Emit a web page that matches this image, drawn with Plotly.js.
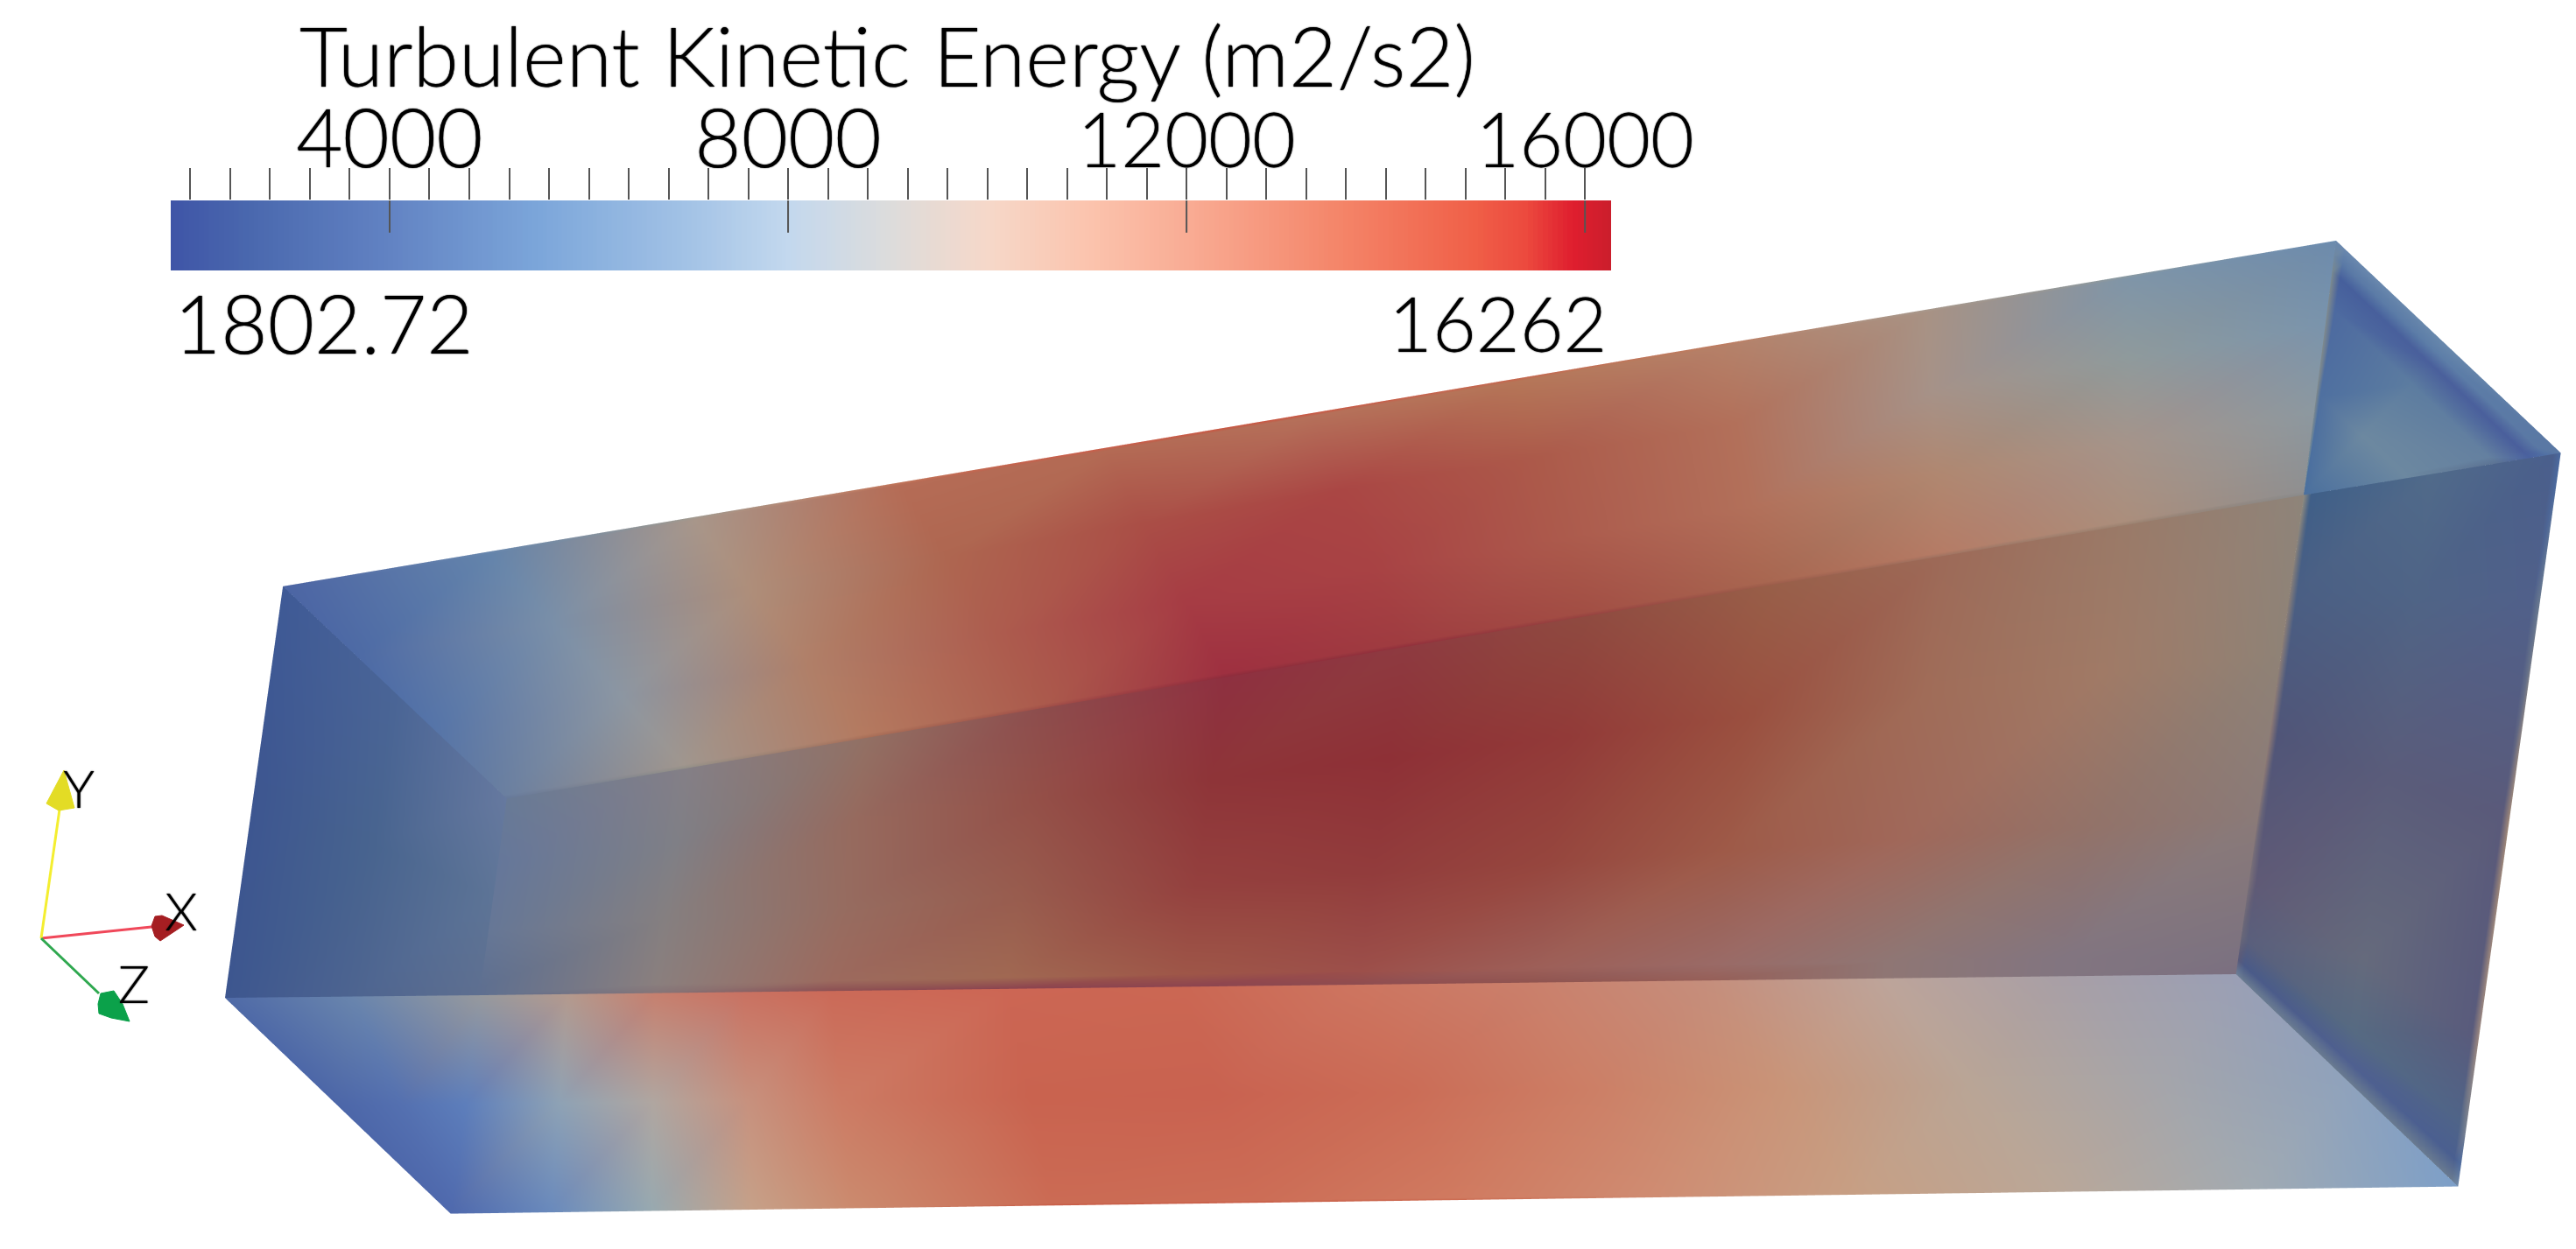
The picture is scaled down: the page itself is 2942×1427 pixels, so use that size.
<!DOCTYPE html>
<html><head><meta charset="utf-8">
<script src="https://cdn.plot.ly/plotly-3.0.1.min.js"></script>
<style>html,body{margin:0;padding:0;background:#fff}#c{width:2942px;height:1427px}</style></head>
<body><div id="c"></div>
<script>
const W=2942,H=1427;
// ---- colour bar
const barMin=1802.72, barMax=16262;
const majorTicks=[4000,8000,12000,16000];
const barStops=[1802.72,2600,4000,5500,7000,8000,9000,10000,11000,12000,13500,14870,15400,15880,16262];
const barColors=['#3f55a7','#4a68ae','#6283c3','#7ca6da','#a3c3e6','#c3d8ee','#dcdcdc','#f6d8c9','#fbc4ae','#f9ac94','#f4866a','#f06048','#ec4a3e','#df1e2e','#cb1e2c'];
const labelFont='Lato';
const textShadow='0 0 1.5px #000';
// ---- box corners
const A=[326,670],B=[2665,276],C=[2921,518],D=[581,912],E=[260,1139],F=[2551,1112],G=[2804,1354],Hh=[517,1385];
const P=[2628,566],Q=[550,1136];
const U11=[0,.1,.2,.3,.4,.5,.6,.7,.8,.9,1];
const U13=[0,.05,.1,.15,.2,.3,.4,.5,.6,.7,.8,.9,1];
// colour samples of the visible regions
const topV=[0,.012,.33,.67,.985,1];
const topColors=[
['4b63a2','6a88ae','a09a90','c4785c','cc5c48','cc5440','c8644c','c07c60','a89a8e','8a9aa2','6d8db0'],
['4c65a4','6484ab','a8968a','b56c56','b36a54','b5705a','b57658','b58068','a89284','7f95a8','6d8bac'],
['4d6aa5','7a8fa8','ae8e7a','ae6650','aa4e46','aa4644','ac5a4a','b2705a','a69288','8f9a9c','7a94ac'],
['5574a8','8c96a2','b07f68','ad5c4e','a63c44','a84244','ac5a4c','b2705a','b08770','a5948a','8c98a0'],
['6a7fa0','a0968e','b47a60','ab5a4c','9e3040','9f3c40','a24e44','a86650','b57c66','ab8e7c','8f8f90'],
['66799a','949088','a86e58','a04e48','8e2c3c','92303c','974240','9c5c4a','a07462','9c8270','8a8a8a']];
const midV=[0,.33,.67,.96,1];
const midColors=[
['687a96','847f86','927064','8d4c4c','8e3040','8e3a40','8f4a40','985e48','9d6a58','9a7a68','8e847a'],
['65779a','7f7f86','966a5e','945048','8e3438','8e3036','923a38','9a4f3f','a06c58','a07a66','8f8276'],
['667796','857f80','966c60','985c4e','94403e','923c3c','96463e','9e5a48','a0685a','937268','8a7a78'],
['5e6f90','8a7f7e','9c6a5e','a06852','9e5648','9c4f4a','9d5f58','9a6a66','8f7674','827580','7c7280'],
['5e6f90','847478','8c5054','8c4450','8c4450','8e4c50','905450','965f58','8f7674','827580','7b6f80']];
const botV=[0,.5,.99,1];
const botColors=[
['96999e','b49a8e','c6806f','c97262','cb6a58','cc6654','cb6753','cd7560','ca806c','c58e7c','bda49a','a89fa6','9a9fb5'],
['5d7ebb','8ea2b5','b0a6a0','c7917e','cc7b64','c9634f','c96250','cb6c56','cc7f66','c99478','b9a596','a5a5aa','8fa2bc'],
['4f69ad','6a8abc','98a9b0','c6a088','cb8a6e','cb6b54','cc6d56','d07a60','cf8c72','c79f84','baa798','a1aab2','7d9fc8'],
['4f69ad','6a8abc','98a9b0','c6a088','cb8a6e','c85a44','c85a44','cc6a50','cf8c72','c79f84','baa798','a1aab2','7d9fc8']];
const triU=[0,.5,1], triV=[0,.5,1];
const triColors=[['4f6aa7','6985ad','96999e'],['4c66a8','5470b0','5d7ebb'],['4f69ad','4f69ad','4f69ad']];
const leftColors=[['3f5a96','4a6596','66799f'],['3d5690','48648f','5d7496'],['3d568f','4d6490','5e6f90']];
const capU=[0,.04,.5,.96,1], capV=[0,.06,.12,.25,.6,1];
const capColors=[
['6a88ae','6a88ae','6888ac','5a78a4','5a78a4'],
['7088a0','5b7aa6','5d7ea8','5a78a4','5070a4'],
['7a8a90','465f9c','4a609c','4a5f9c','4a62a0'],
['7f8a8e','4d6aa0','5c7ca0','6480a0','5c7394'],
['808a8c','4f70a0','6c88a0','6c88a0','6c88a0'],
['6f8a9a','4a6f9e','4a6f9e','4a6f9e','4a6f9e']];
const endU=[0,.03,.5,.97,1], endV=[0,.2,.5,.8,.92,.97,1];
const endColors=[
['8f8b80','3f5f88','506a8a','4a5f8c','4a6aa0'],
['8a7f78','4a5f84','4f6486','50608a','6a7a90'],
['8f7a74','505578','5a5c7a','5a5a7a','a08878'],
['7a7078','5f5a76','656a7c','595b7c','9c8880'],
['6a6878','5a5f7c','566a82','4f6488','7a8290'],
['5a5a7a','4a5a88','4f6090','4a5f90','516ea0'],
['6f8096','6a7b90','6a7b90','6a7b90','738ba8']];
// ---- orientation triad
const triadX=[[47,173],[47,68],[47,113]], triadY=[[1072,1059],[1072,925],[1072,1135]];
const triadColor=['#f0485a','#f4ee30','#2fa84f'];
const coneX=[[177,185,210,183,177,173,177],[73,85,67,53,73],[115,130,140,148,127,113,112,115]];
const coneY=[[1047,1046,1057,1075,1070,1058,1047],[880,923,926,918,880],[1135,1132,1147,1167,1163,1158,1147,1135]];
const coneColor=['#a51e22','#e3dc25','#0ba14a'];
const triadLabels=['X','Y','Z'], triadLabelX=[207,90,153], triadLabelY=[1048,908,1131];

// ---- build mesh
const vx=[],vy=[],vc=[],ti=[],tj=[],tk=[];
function lerp(a,b,t){return [a[0]+(b[0]-a[0])*t,a[1]+(b[1]-a[1])*t];}
function addRegion(tl,tr,br,bl,us,vs,cols){
  const base=vx.length,nu=us.length,nv=vs.length;
  vs.forEach((v,r)=>{
    const l=lerp(tl,bl,v),rr=lerp(tr,br,v);
    us.forEach((u,c)=>{const p=lerp(l,rr,u);vx.push(p[0]);vy.push(H-p[1]);vc.push('#'+cols[r][c]);});
  });
  for(let r=0;r<nv-1;r++)for(let c=0;c<nu-1;c++){
    const a=base+r*nu+c,b=a+1,d=a+nu,e=d+1;
    ti.push(a,b);tj.push(b,e);tk.push(d,d);
  }
}
addRegion(A,B,P,D,U11,topV,topColors);
addRegion(D,P,F,Q,U11,midV,midColors);
addRegion(Q,F,G,Hh,U13,botV,botColors);
addRegion(E,Q,Hh,Hh,triU,triV,triColors);
addRegion(A,D,Q,E,triU,triV,leftColors);
addRegion(B,C,P,P,capU,capV,capColors);
addRegion(P,C,G,F,endU,endV,endColors);

const traces=[];
traces.push({type:'mesh3d',x:vx,y:vy,z:vx.map(()=>0),i:ti,j:tj,k:tk,vertexcolor:vc,flatshading:false,
 lighting:{ambient:1,diffuse:0,specular:0,roughness:1,fresnel:0},hoverinfo:'skip',showscale:false,scene:'scene'});
// colour bar ramp
const rampX=[];for(let v=barMin;v<barMax;v+=50)rampX.push(v);rampX.push(barMax);
const scale=barStops.map((s,i)=>[(s-barMin)/(barMax-barMin),barColors[i]]);
traces.push({type:'heatmap',x:rampX,y:[0,1],z:[rampX,rampX],zmin:barMin,zmax:barMax,colorscale:scale,showscale:false,hoverinfo:'skip',xaxis:'x',yaxis:'y'});
const mx=[],my=[];majorTicks.forEach(t=>{mx.push(t,t,null);my.push(1,.54,null);});
traces.push({type:'scatter',mode:'lines',x:mx,y:my,line:{color:'#555',width:2},hoverinfo:'skip',xaxis:'x',yaxis:'y'});
// triad
for(let i=0;i<3;i++){
 traces.push({type:'scatter',mode:'lines',x:triadX[i],y:triadY[i],line:{color:triadColor[i],width:3},hoverinfo:'skip',xaxis:'x2',yaxis:'y2'});
 traces.push({type:'scatter',mode:'lines',x:coneX[i],y:coneY[i],fill:'toself',fillcolor:coneColor[i],line:{color:coneColor[i],width:1},hoverinfo:'skip',xaxis:'x2',yaxis:'y2'});
}
traces.push({type:'scatter',mode:'text',x:triadLabelX,y:triadLabelY,text:triadLabels,textposition:'middle center',textfont:{family:labelFont,size:60,color:'#000',weight:300,shadow:textShadow},hoverinfo:'skip',xaxis:'x2',yaxis:'y2'});

const hidden={visible:false,showspikes:false,showgrid:false,zeroline:false};
const k=2.005;
const fnt=(s)=>({family:labelFont,size:s,color:'#000',weight:300,shadow:textShadow});
const layout={width:W,height:H,margin:{l:0,r:0,t:0,b:0,pad:0},paper_bgcolor:'#fff',plot_bgcolor:'rgba(0,0,0,0)',showlegend:false,
 xaxis:{domain:[195/W,1840/W],range:[barMin,barMax],side:'top',anchor:'y',tickmode:'array',tickvals:majorTicks,
   ticktext:['4000','8000','<span style="font-size:86px">12000</span>','<span style="font-size:86px">16000</span>'],ticks:'outside',ticklen:36,tickwidth:2,tickcolor:'#555',ticklabelstandoff:-36,
   minor:{tickmode:'linear',tick0:2000,dtick:400,ticks:'outside',ticklen:36,tickwidth:2,tickcolor:'#555'},tickfont:fnt(92),showgrid:false,zeroline:false,showline:false,fixedrange:true},
 yaxis:{domain:[1-309/H,1-229/H],range:[0,1],visible:false,fixedrange:true},
 xaxis2:{domain:[0,1],range:[0,W],visible:false,anchor:'y2',fixedrange:true},
 yaxis2:{domain:[0,1],range:[H,0],visible:false,anchor:'x2',fixedrange:true},
 scene:{domain:{x:[0,1],y:[0,1]},bgcolor:'rgba(0,0,0,0)',xaxis:Object.assign({range:[0,W]},hidden),yaxis:Object.assign({range:[0,H]},hidden),zaxis:Object.assign({range:[-1,1]},hidden),
   aspectmode:'manual',aspectratio:{x:W/H*k,y:k,z:.1},camera:{projection:{type:'orthographic'},eye:{x:0,y:0,z:2},up:{x:0,y:1,z:0},center:{x:0,y:0,z:0}}},
 annotations:[
  {xref:'paper',yref:'paper',x:1013/W,y:1-62/H,text:'Turbulent Kinetic Energy (m2/s2)',showarrow:false,xanchor:'center',yanchor:'middle',font:fnt(95)},
  {xref:'paper',yref:'paper',x:370/W,y:1-368/H,text:'1802.72',showarrow:false,xanchor:'center',yanchor:'middle',font:fnt(92)},
  {xref:'paper',yref:'paper',x:1710/W,y:1-368/H,text:'16262',showarrow:false,xanchor:'center',yanchor:'middle',font:fnt(86)}
 ]};
Plotly.newPlot('c',traces,layout,{staticPlot:false,displayModeBar:false,responsive:false});
</script></body></html>
